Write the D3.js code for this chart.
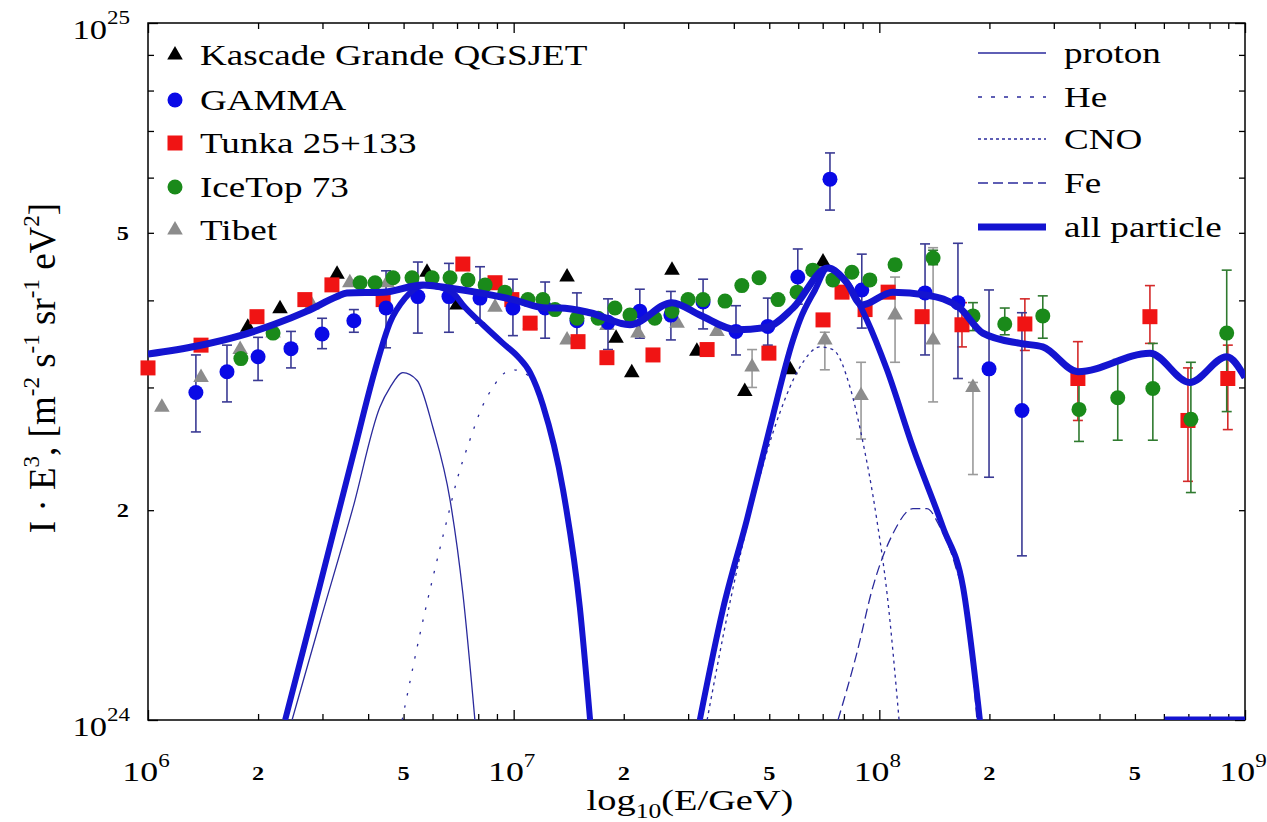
<!DOCTYPE html>
<html><head><meta charset="utf-8">
<script src="https://cdn.jsdelivr.net/npm/d3@7"></script>
<style>
body{margin:0;background:#fff}
svg{display:block}
text{font-family:"Liberation Serif","Times New Roman",serif;fill:#000}
</style>
</head><body>
<svg id="c" width="1267" height="822"></svg>
<script>
// ---------------- DATA (x: log10(E/GeV), y: I·E^3 in units of 1e24) ----------------
// points: [lgE, value, errLow, errHigh]
const kascade = [[6.273,3.66],[6.361,3.89],[6.517,4.36],[6.763,4.39],[6.845,3.94],[7.146,4.32],[7.280,3.53],[7.323,3.15],[7.433,4.42],[7.501,3.38],[7.632,2.96],[7.756,3.18],[7.846,4.54]];
const gamma = [[6.131,2.95,2.59,3.34],[6.216,3.16,2.86,3.45],[6.301,3.32,3.07,3.54],[6.391,3.41,3.20,3.61],[6.476,3.58,3.41,3.77],[6.563,3.74,3.60,3.88],[6.651,3.90,3.42,4.41],[6.738,4.05,3.59,4.54],[6.823,4.05,3.60,4.52],[6.908,4.03,3.71,4.47],[6.998,3.90,3.56,4.29],[7.086,3.90,3.53,4.25],[7.173,3.74,3.53,4.10],[7.258,3.72,3.40,4.02],[7.345,3.86,3.53,4.15],[7.430,3.81,3.51,4.12],[7.518,3.98,3.64,4.29],[7.608,3.61,3.34,3.93],[7.695,3.67,3.45,4.03],[7.777,4.32,3.95,4.74],[7.865,5.97,5.39,6.51],[7.952,4.14,3.65,4.66],[8.125,4.10,3.34,4.82],[8.215,3.97,3.09,4.83],[8.300,3.19,2.23,4.14],[8.390,2.78,1.72,3.84]];
const tunka = [[6.000,3.20],[6.145,3.45],[6.298,3.79],[6.429,4.01],[6.503,4.21],[6.643,4.01],[6.861,4.51],[6.949,4.24],[6.995,4.01],[7.045,3.71],[7.176,3.49],[7.255,3.31],[7.381,3.34],[7.529,3.40],[7.698,3.36],[7.846,3.75],[7.898,4.11],[7.961,3.88],[8.024,4.11],[8.117,3.79],[8.226,3.69,3.43,3.97],[8.398,3.70,3.39,4.02],[8.543,3.09,2.69,3.49],[8.740,3.79,3.47,4.20],[8.844,2.69,2.20,3.20],[8.953,3.09,2.61,3.45]];
const icetop = [[6.254,3.30],[6.342,3.59],[6.580,4.24],[6.621,4.24],[6.670,4.31],[6.722,4.31],[6.777,4.31],[6.826,4.31],[6.875,4.28],[6.922,4.21],[6.976,4.11],[7.039,4.01],[7.080,4.01],[7.113,3.88],[7.173,3.77],[7.231,3.77],[7.277,3.90],[7.318,3.81],[7.386,3.77],[7.433,3.86],[7.477,4.01],[7.518,4.01],[7.578,3.99],[7.624,4.20],[7.671,4.31],[7.723,4.01],[7.775,4.11],[7.818,4.42],[7.873,4.28],[7.925,4.39],[7.974,4.28],[8.043,4.50,4.42,4.58],[8.147,4.60,4.50,4.72],[8.256,3.80,3.62,3.97],[8.343,3.70,3.57,3.90],[8.447,3.80,3.53,4.06],[8.546,2.79,2.51,3.15],[8.652,2.90,2.52,3.29],[8.748,2.99,2.52,3.47],[8.852,2.70,2.12,3.26],[8.950,3.59,2.77,4.42]];
const tibet = [[6.038,2.81],[6.145,3.10],[6.252,3.40],[6.342,3.59],[6.448,3.94],[6.552,4.24],[6.654,4.24],[6.949,3.91],[7.045,3.69],[7.146,3.51],[7.255,3.68],[7.340,3.59],[7.447,3.71],[7.556,3.61],[7.652,3.21,3.00,3.40],[7.851,3.51,3.18,3.60],[7.950,2.92,2.53,3.26],[8.043,3.81,3.26,4.32],[8.147,3.51,2.86,4.76],[8.256,3.00,2.25,3.05]];

// model curves: [lgE, value]
const allParticle = [[6.000,3.35],[6.134,3.44],[6.252,3.56],[6.342,3.69],[6.435,3.86],[6.517,4.05],[6.544,4.10],[6.643,4.11],[6.752,4.21],[6.818,4.17],[6.908,4.10],[6.998,4.01],[7.091,3.90],[7.127,3.90],[7.209,3.84],[7.318,3.69],[7.433,3.97],[7.509,3.81],[7.611,3.63],[7.693,3.66],[7.764,3.90],[7.859,4.45],[7.911,4.24],[7.952,3.94],[8.037,4.11],[8.130,4.07],[8.220,3.90],[8.283,3.59],[8.385,3.47],[8.447,3.43],[8.543,3.16],[8.740,3.36],[8.849,3.05],[8.950,3.32],[9.000,3.10]];
const population1 = [[6.375,1.00],[6.470,1.56],[6.561,2.40],[6.621,3.18],[6.662,3.72],[6.703,4.03],[6.757,4.21],[6.798,4.18],[6.840,4.07],[6.861,3.94],[6.916,3.69],[6.971,3.47],[7.012,3.32],[7.045,3.15],[7.080,2.83],[7.135,2.14],[7.181,1.45],[7.209,1.00]];
const population2 = [[7.509,1.00],[7.572,1.44],[7.638,1.94],[7.701,2.63],[7.764,3.51],[7.783,3.75],[7.824,4.14],[7.859,4.45],[7.906,4.28],[7.966,3.75],[8.021,3.18],[8.092,2.46],[8.174,1.89],[8.229,1.55],[8.275,1.00]];
const population3 = [[8.780,1.00],[9.000,1.00]];
const proton = [[6.394,1.00],[6.470,1.38],[6.561,2.02],[6.634,2.81],[6.662,3.00],[6.697,3.15],[6.736,3.07],[6.779,2.63],[6.826,2.07],[6.861,1.52],[6.894,1.00]];
const helium = [[6.695,1.00],[6.708,1.08],[6.744,1.33],[6.779,1.60],[6.818,1.94],[6.845,2.21],[6.880,2.52],[6.916,2.83],[6.943,3.00],[6.976,3.15],[7.000,3.18],[7.025,3.15],[7.045,3.10],[7.080,2.80],[7.135,2.12],[7.181,1.44],[7.207,1.00]];
const cno = [[7.529,1.00],[7.591,1.47],[7.654,2.05],[7.728,2.76],[7.783,3.21],[7.838,3.43],[7.873,3.40],[7.920,3.00],[7.952,2.55],[7.993,1.94],[8.021,1.52],[8.054,1.00]];
const iron = [[7.887,1.00],[7.939,1.25],[7.982,1.55],[8.037,1.85],[8.092,2.01],[8.130,2.01],[8.166,1.89],[8.207,1.67],[8.242,1.39],[8.267,1.00]];

// tick labels
const xMajorLabels = [["10","6"],["10","7"],["10","8"],["10","9"]];
const xMinorLabelValues = [2e6,5e6,2e7,5e7,2e8,5e8];
const xMinorLabels = ["2","5","2","5","2","5"];
const yMajorLabels = [["10","24"],["10","25"]];
const yMinorLabelValues = [2,5];
const yMinorLabels = ["2","5"];
const pointLegend = ["Kascade Grande QGSJET","GAMMA","Tunka 25+133","IceTop 73","Tibet"];
const lineLegend = ["proton","He","CNO","Fe","all particle"];

// ---------------- DRAWING ----------------
const L=148,R=1245,T=23,B=720, SX=1.28;
const svg=d3.select("#c");
const x=d3.scaleLog().domain([1e6,1e9]).range([L,R]);
const y=d3.scaleLog().domain([1,10]).range([B,T]);
const px=d=>x(Math.pow(10,d[0]));
const py=d=>y(d[1]);

svg.append("defs").append("clipPath").attr("id","clip")
  .append("rect").attr("x",L).attr("y",T).attr("width",R-L).attr("height",B-T);

// axes ticks (inward)
const isMajor=v=>Math.abs(Math.log10(v)-Math.round(Math.log10(v)))<1e-6;
const xAll=x.ticks(), yAll=y.ticks();
const xMaj=xAll.filter(isMajor), xMin=xAll.filter(v=>!isMajor(v));
const yMaj=yAll.filter(isMajor), yMin=yAll.filter(v=>!isMajor(v));
function axis(gen, tr, vals, len){
  const g=svg.append("g").attr("transform",tr)
    .call(gen.tickValues(vals).tickSize(-len).tickFormat(""));
  g.select(".domain").remove();
  g.selectAll("line").attr("stroke","#000").attr("stroke-width",1.3);
}
axis(d3.axisBottom(x),`translate(0,${B})`,xMaj,10);
axis(d3.axisBottom(x),`translate(0,${B})`,xMin,6);
axis(d3.axisTop(x),`translate(0,${T})`,xMaj,10);
axis(d3.axisTop(x),`translate(0,${T})`,xMin,6);
axis(d3.axisLeft(y),`translate(${L},0)`,yMaj,10);
axis(d3.axisLeft(y),`translate(${L},0)`,yMin,6);
axis(d3.axisRight(y),`translate(${R},0)`,yMaj,10);
axis(d3.axisRight(y),`translate(${R},0)`,yMin,6);

// stretched text helper: parts = [text, dy, size]
function stext(xp,yp,anchor,parts,extra){
  const t=svg.append("text").attr("transform",extra||`translate(${xp},${yp}) scale(${SX},1)`)
    .attr("text-anchor",anchor);
  parts.forEach(p=>{t.append("tspan").attr("dy",p[1]||0).attr("font-size",p[2]).text(p[0]);});
  return t;
}
// x tick labels
xMaj.forEach((v,i)=>{
  stext(x(v)-2,781,"middle",[[xMajorLabels[i][0],0,28],[xMajorLabels[i][1],-14,18]]);
});
xMinorLabelValues.forEach((v,i)=>{
  stext(x(v),780,"middle",[[xMinorLabels[i],0,19]]).attr("font-weight","bold");
});
// y tick labels
yMaj.forEach((v,i)=>{
  const t=svg.append("text").attr("transform",`translate(130,${y(v)+16}) scale(${SX},1)`).attr("text-anchor","end");
  t.append("tspan").attr("font-size",27).text(yMajorLabels[i][0]);
  t.append("tspan").attr("font-size",18).attr("dy",-15).text(yMajorLabels[i][1]);
});
yMinorLabelValues.forEach((v,i)=>{
  stext(129,y(v)+7,"end",[[yMinorLabels[i],0,19]]).attr("font-weight","bold");
});

// axis titles
stext(690,810,"middle",[["log",0,30],["10",8,20],["(E/GeV)",-8,30]]);
stext(0,0,"middle",[["I · E",0,37],["3",-16,23],[", [m",16,37],["-2",-16,23],[" s",16,37],["-1",-16,23],[" sr",16,37],["-1",-16,23],[" eV",16,37],["2",-16,23],["]",16,37]],
  `translate(55,368) rotate(-90)`);

// frame
svg.append("rect").attr("x",L).attr("y",T).attr("width",R-L).attr("height",B-T)
  .attr("fill","none").attr("stroke","#000").attr("stroke-width",1.5);

// data points
const series=[
  {d:tibet, shape:"tri", fill:"#8c8c8c", err:"#9a9a9a"},
  {d:kascade, shape:"tri", fill:"#000", err:"#000"},
  {d:tunka, shape:"sq", fill:"#f01414", err:"#d42a2a"},
  {d:gamma, shape:"circ", fill:"#0a0ae6", err:"#3a3a94"},
  {d:icetop, shape:"circ", fill:"#1a8a1a", err:"#2f7a2f"},
];
function marker(g,shape,fill,cx,cy){
  if(shape==="circ") g.append("circle").attr("cx",cx).attr("cy",cy).attr("r",7.5).attr("fill",fill);
  else if(shape==="sq") g.append("rect").attr("x",cx-7.5).attr("y",cy-7.5).attr("width",15).attr("height",15).attr("fill",fill);
  else g.append("path").attr("d",d3.symbol().type(d3.symbolTriangle).size(105)()).attr("transform",`translate(${cx},${cy})`).attr("fill",fill);
}
const errG=svg.append("g"), ptG=svg.append("g");
series.forEach(s=>{
  s.d.forEach(d=>{
    if(d.length>2){
      const X=px(d), y1=y(d[2]), y2=y(Math.max(d[3],d[1]));
      errG.append("line").attr("x1",X).attr("x2",X).attr("y1",y1).attr("y2",y2).attr("stroke",s.err).attr("stroke-width",1.6);
      [y1,y2].forEach(yy=>errG.append("line").attr("x1",X-5).attr("x2",X+5).attr("y1",yy).attr("y2",yy).attr("stroke",s.err).attr("stroke-width",1.6));
    }
  });
});
series.forEach(s=>s.d.forEach(d=>marker(ptG,s.shape,s.fill,px(d),py(d))));

// model lines
const line=d3.line().x(px).y(py).curve(d3.curveMonotoneX);
const thin="#2a2a9c", thick="#1414d0";
const lines=[
  {d:proton, c:thin, w:1.3, da:null},
  {d:helium, c:thin, w:1.3, da:"2.5,10"},
  {d:cno, c:thin, w:1.3, da:"3,4"},
  {d:iron, c:thin, w:1.3, da:"10,5"},
  {d:population1, c:thick, w:6, da:null},
  {d:population2, c:thick, w:6, da:null},
  {d:population3, c:thick, w:7, da:null},
  {d:allParticle, c:thick, w:7, da:null},
];
const lg=svg.append("g").attr("clip-path","url(#clip)");
lines.forEach(l=>{
  lg.append("path").attr("d",line(l.d)).attr("fill","none").attr("stroke",l.c)
    .attr("stroke-width",l.w).attr("stroke-dasharray",l.da).attr("stroke-linejoin","round");
});

// legends
const legShapes=[["tri","#000"],["circ","#0a0ae6"],["sq","#f01414"],["circ","#1a8a1a"],["tri","#8c8c8c"]];
const legY=[55,100,143,187,230];
pointLegend.forEach((name,i)=>{
  marker(svg,legShapes[i][0],legShapes[i][1],175,legY[i]);
  stext(200,legY[i]+10,"start",[[name,0,29]]);
});
const lineStyles=[[thin,1.3,null],[thin,1.3,"4,9"],[thin,1.3,"3,3"],[thin,1.3,"10,5"],[thick,7,null]];
const lineLegY=[53,97,139,183,227];
lineLegend.forEach((name,i)=>{
  svg.append("line").attr("x1",978).attr("x2",1046).attr("y1",lineLegY[i]).attr("y2",lineLegY[i])
    .attr("stroke",lineStyles[i][0]).attr("stroke-width",lineStyles[i][1]).attr("stroke-dasharray",lineStyles[i][2]);
  stext(1064,lineLegY[i]+10,"start",[[name,0,29]]);
});
</script>
</body></html>
